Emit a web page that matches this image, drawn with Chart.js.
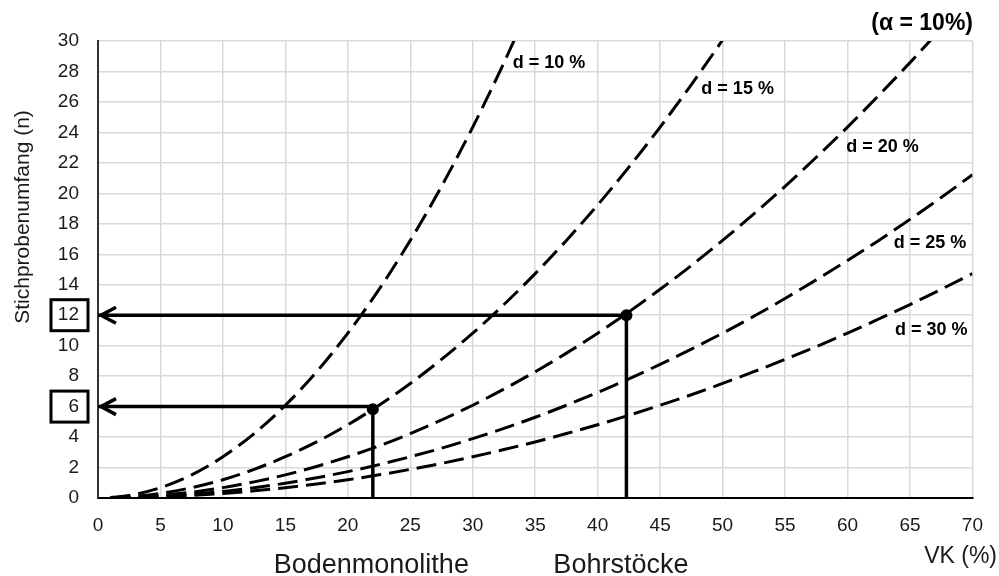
<!DOCTYPE html>
<html>
<head>
<meta charset="utf-8">
<script src="https://cdn.jsdelivr.net/npm/chart.js@4.4.1/dist/chart.umd.min.js"></script>
<style>
  html, body { margin: 0; padding: 0; background: #ffffff; }
  #wrap { width: 999px; height: 576px; }
</style>
</head>
<body>
<div id="wrap"><canvas id="chart" width="999" height="576"></canvas></div>
<script>
// Variationskoeffizient VK (%)
const vk = [1, 2.5, 5, 7.5, 10, 12.5, 15, 17.5, 20, 22.5, 25, 27.5, 30, 32.5, 35,
            37.5, 40, 42.5, 45, 47.5, 50, 52.5, 55, 57.5, 60, 62.5, 65, 67.5, 70];

// Stichprobenumfang n je tolerierter Abweichung d
const nD10 = [0.03, 0.17, 0.68, 1.52, 2.71, 4.23, 6.09, 8.29, 10.82, 13.70, 16.91, 20.46, 24.35, 28.58, 33.15];
const nD15 = [0.01, 0.08, 0.30, 0.68, 1.20, 1.88, 2.71, 3.68, 4.81, 6.09, 7.52, 9.10, 10.82, 12.70, 14.73,
              16.91, 19.24, 21.72, 24.35, 27.14, 30.07, 33.15];
const nD20 = [0.01, 0.04, 0.17, 0.38, 0.68, 1.06, 1.52, 2.07, 2.71, 3.42, 4.23, 5.12, 6.09, 7.15, 8.29,
              9.51, 10.82, 12.22, 13.70, 15.26, 16.91, 18.65, 20.46, 22.37, 24.35, 26.43, 28.58, 30.82, 33.15];
const nD25 = [0.00, 0.03, 0.11, 0.24, 0.43, 0.68, 0.97, 1.33, 1.73, 2.19, 2.71, 3.27, 3.90, 4.57, 5.30,
              6.09, 6.93, 7.82, 8.77, 9.77, 10.82, 11.93, 13.10, 14.32, 15.59, 16.91, 18.29, 19.73, 21.22];
const nD30 = [0.00, 0.02, 0.08, 0.17, 0.30, 0.47, 0.68, 0.92, 1.20, 1.52, 1.88, 2.27, 2.71, 3.18, 3.68,
              4.23, 4.81, 5.43, 6.09, 6.78, 7.52, 8.29, 9.10, 9.94, 10.82, 11.75, 12.70, 13.70, 14.73];

const curveLabels = ['d = 10 %', 'd = 15 %', 'd = 20 %', 'd = 25 %', 'd = 30 %'];

const sampleNames = ['Bodenmonolithe', 'Bohrstöcke'];
const sampleVK = [22, 42.3];
const sampleN = [6, 12];
const sampleCurveN = [5.82, 12];

// Achsen
const xMin = 0, xMax = 70, xStep = 5;
const yMin = 0, yMax = 30, yStep = 2;

const FONT = '"Liberation Sans", Arial, Helvetica, sans-serif';

function series(vals) {
  return vals.map((v, i) => ({ x: vk[i], y: v }));
}

function curve(label, vals) {
  return {
    label,
    data: series(vals),
    borderColor: '#000000',
    borderWidth: 3,
    borderDash: [20, 8],
    borderCapStyle: 'butt',
    pointRadius: 0,
    fill: false,
    cubicInterpolationMode: 'monotone',
    order: 2
  };
}

const guideSets = sampleVK.map((v, i) => ({
  label: sampleNames[i],
  data: [{ x: 0, y: sampleN[i] }, { x: v, y: sampleN[i] }, { x: v, y: sampleCurveN[i] }, { x: v, y: 0 }],
  borderColor: '#000000',
  borderWidth: 3.5,
  pointRadius: 0,
  tension: 0,
  fill: false,
  order: 1
}));

const dotSet = {
  label: 'Ablesepunkte',
  data: sampleVK.map((v, i) => ({ x: v, y: sampleCurveN[i] })),
  showLine: false,
  pointRadius: 6,
  pointBackgroundColor: '#000000',
  pointBorderWidth: 0,
  order: 0
};

// Lage der Kurvenbeschriftungen (Datenkoordinaten, linker Rand / Grundlinie)
const curveLabelPos = [
  { x: 33.2, y: 28.2 },
  { x: 48.3, y: 26.5 },
  { x: 59.9, y: 22.7 },
  { x: 63.7, y: 16.4 },
  { x: 63.8, y: 10.7 }
];

const overlay = {
  id: 'overlay',
  afterDatasetsDraw(chart) {
    const { ctx, scales: { x, y } } = chart;
    ctx.save();
    // Pfeilspitzen an der y-Achse
    ctx.strokeStyle = '#000000';
    ctx.lineWidth = 3.5;
    ctx.lineJoin = 'miter';
    ctx.lineCap = 'butt';
    sampleN.forEach(n => {
      const px = x.getPixelForValue(0) + 3;
      const py = y.getPixelForValue(n);
      ctx.beginPath();
      ctx.moveTo(px + 15, py - 8);
      ctx.lineTo(px, py);
      ctx.lineTo(px + 15, py + 8);
      ctx.stroke();
    });
    // Kurvenbeschriftungen
    ctx.fillStyle = '#000000';
    ctx.font = 'bold 18px ' + FONT;
    ctx.textAlign = 'left';
    ctx.textBaseline = 'alphabetic';
    curveLabels.forEach((t, i) => {
      ctx.fillText(t, x.getPixelForValue(curveLabelPos[i].x), y.getPixelForValue(curveLabelPos[i].y));
    });
    ctx.restore();
  },
  afterDraw(chart) {
    const { ctx, scales: { x, y } } = chart;
    ctx.save();
    ctx.strokeStyle = '#000000';
    ctx.lineWidth = 3;
    sampleN.forEach(n => {
      const py = y.getPixelForValue(n);
      ctx.strokeRect(y.right - 47, py - 15.5, 37, 31);
    });
    ctx.fillStyle = '#1a1a1a';
    // Achsentitel y
    ctx.font = '21px ' + FONT;
    ctx.textAlign = 'center';
    ctx.textBaseline = 'alphabetic';
    ctx.translate(29, 217);
    ctx.rotate(-Math.PI / 2);
    ctx.fillText('Stichprobenumfang (n)', 0, 0);
    ctx.setTransform(1, 0, 0, 1, 0, 0);
    // Achsentitel x
    ctx.font = '23px ' + FONT;
    ctx.textAlign = 'right';
    ctx.fillText('VK (%)', 997, 563);
    // Verfahrensnamen unter den Ablesewerten
    ctx.font = '27px ' + FONT;
    ctx.textAlign = 'center';
    const shift = [-1.5, -5.5];
    sampleNames.forEach((t, i) => {
      ctx.fillText(t, x.getPixelForValue(sampleVK[i]) + shift[i], 573);
    });
    // Irrtumswahrscheinlichkeit
    ctx.fillStyle = '#000000';
    ctx.font = 'bold 23px ' + FONT;
    ctx.textAlign = 'right';
    ctx.fillText('(\u03b1 = 10%)', 973, 30);
    ctx.restore();
  }
};

new Chart(document.getElementById('chart'), {
  type: 'line',
  data: {
    datasets: [
      curve(curveLabels[0], nD10),
      curve(curveLabels[1], nD15),
      curve(curveLabels[2], nD20),
      curve(curveLabels[3], nD25),
      curve(curveLabels[4], nD30),
      ...guideSets,
      dotSet
    ]
  },
  options: {
    responsive: false,
    animation: false,
    devicePixelRatio: 1,
    layout: { padding: { left: 0, right: 21, top: 41, bottom: 0 } },
    plugins: { legend: { display: false }, tooltip: { enabled: false } },
    scales: {
      x: {
        type: 'linear',
        min: xMin, max: xMax,
        afterFit(s) { s.height = 78; },
        ticks: { stepSize: xStep, padding: 16, color: '#1a1a1a', font: { family: FONT, size: 19 } },
        grid: { color: '#d9d9d9', lineWidth: 1.5, drawTicks: false },
        border: { display: true, color: '#000000', width: 2 }
      },
      y: {
        type: 'linear',
        min: yMin, max: yMax,
        afterFit(s) { s.width = 98; },
        ticks: { stepSize: yStep, padding: 19, color: '#1a1a1a', font: { family: FONT, size: 19 } },
        grid: { color: '#d9d9d9', lineWidth: 1.5, drawTicks: false },
        border: { display: true, color: '#333333', width: 2 }
      }
    }
  },
  plugins: [overlay]
});
</script>
</body>
</html>
